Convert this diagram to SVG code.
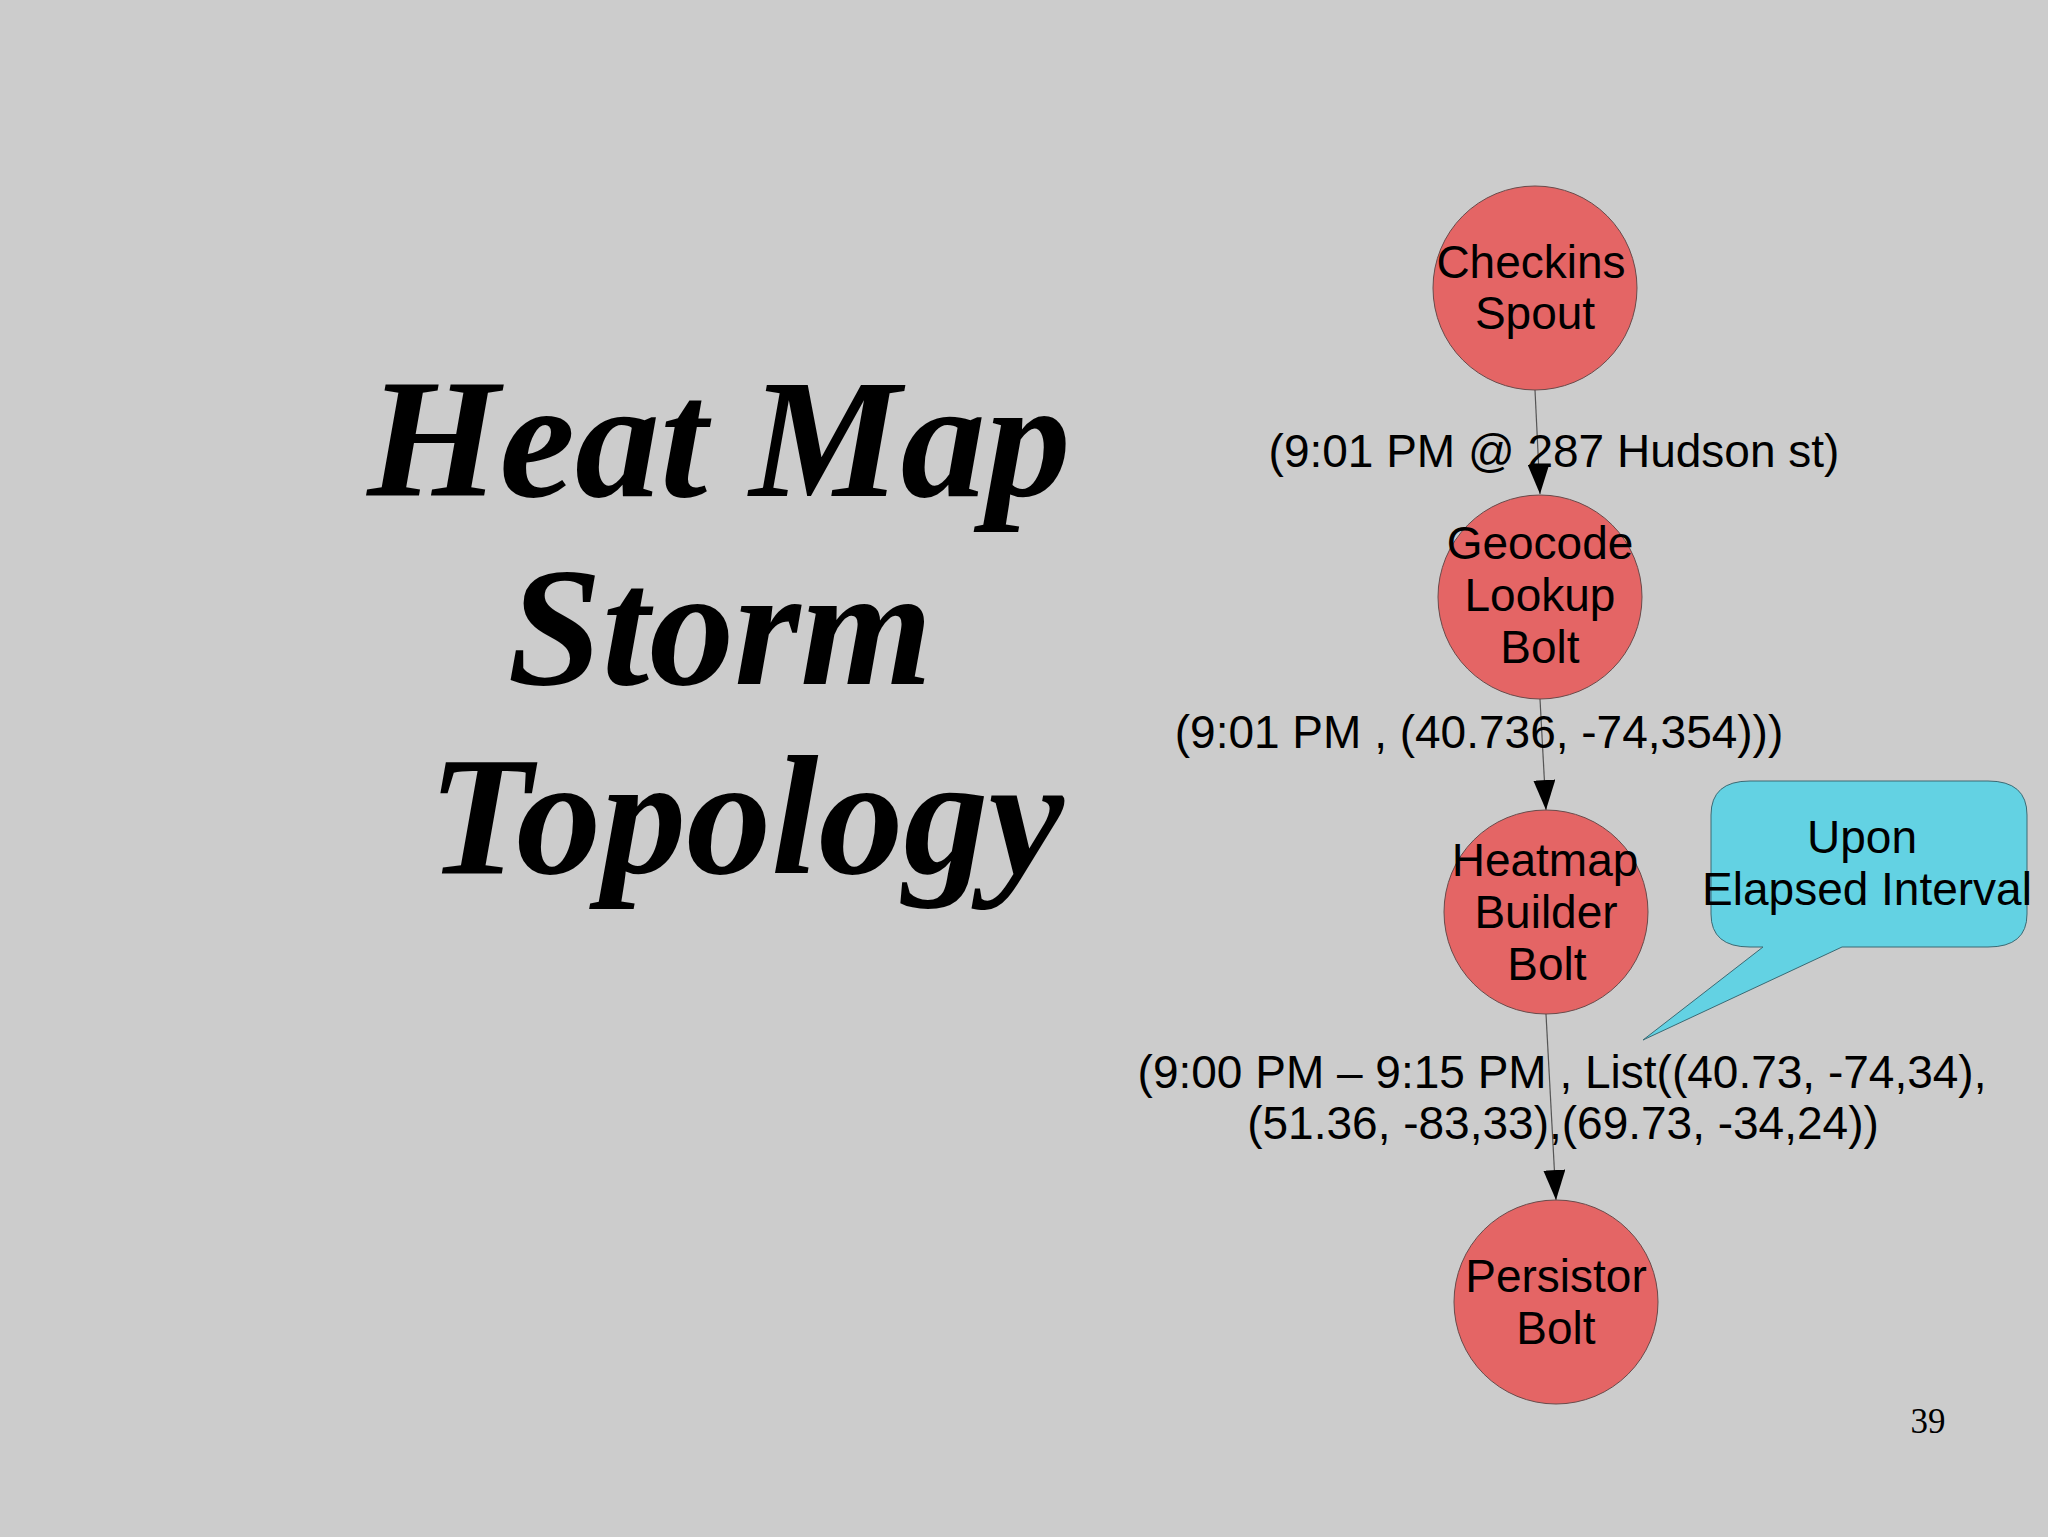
<svg xmlns="http://www.w3.org/2000/svg" width="2048" height="1537" viewBox="0 0 2048 1537">
<defs>
<style>
.bg{fill:#cccccc}
.node{fill:#e46565;stroke:#6a4a4a;stroke-width:1}
.lbl{font-family:"Liberation Sans",Arial,sans-serif;font-size:46px;fill:#000;text-anchor:middle}
.edge{stroke:#555555;stroke-width:1.2;fill:none;marker-end:url(#arr)}
.title{font-family:"Liberation Serif","Times New Roman",serif;font-weight:bold;font-style:italic;font-size:170px;fill:#000;text-anchor:middle}
.callout{fill:#63d2e3;stroke:#3a6a74;stroke-width:1}
</style>
<marker id="arr" markerUnits="userSpaceOnUse" markerWidth="30" markerHeight="22" refX="30" refY="11" orient="auto">
<path d="M0,0 L30,11 L0,22 z" fill="#000"/>
</marker>
</defs>
<rect class="bg" x="0" y="0" width="2048" height="1537"/>
<g id="title">
<text class="title" x="719" y="496">Heat Map</text>
<text class="title" x="720" y="684">Storm</text>
<text class="title" x="746" y="873">Topology</text>
</g>
<g id="connectors">
<line class="edge" x1="1535" y1="390" x2="1540" y2="494"/>
<line class="edge" x1="1540" y1="699" x2="1546" y2="810"/>
<line class="edge" x1="1546" y1="1014" x2="1556" y2="1200"/>
</g>
<g id="edge-labels">
<text class="lbl" x="1554" y="467">(9:01 PM @ 287 Hudson st)</text>
<text class="lbl" x="1479" y="748">(9:01 PM , (40.736, -74,354)))</text>
<text class="lbl" x="1562" y="1088">(9:00 PM – 9:15 PM , List((40.73, -74,34),</text>
<text class="lbl" x="1563" y="1139">(51.36, -83,33),(69.73, -34,24))</text>
</g>
<g id="checkins-spout">
<circle class="node" cx="1535" cy="288" r="102"/>
<text class="lbl" x="1531" y="278">Checkins</text>
<text class="lbl" x="1535" y="329">Spout</text>
</g>
<g id="geocode-lookup-bolt">
<circle class="node" cx="1540" cy="597" r="102"/>
<text class="lbl" x="1540" y="559">Geocode</text>
<text class="lbl" x="1540" y="611">Lookup</text>
<text class="lbl" x="1540" y="663">Bolt</text>
</g>
<g id="heatmap-builder-bolt">
<circle class="node" cx="1546" cy="912" r="102"/>
<text class="lbl" x="1545" y="876">Heatmap</text>
<text class="lbl" x="1546" y="928">Builder</text>
<text class="lbl" x="1547" y="980">Bolt</text>
</g>
<g id="persistor-bolt">
<circle class="node" cx="1556" cy="1302" r="102"/>
<text class="lbl" x="1556" y="1292">Persistor</text>
<text class="lbl" x="1556" y="1344">Bolt</text>
</g>
<g id="callout">
<path class="callout" d="M1750,781 L1988,781 Q2027,781 2027,815 L2027,914 Q2027,947 1988,947 L1842,947 L1643,1040 L1763,947 L1750,947 Q1711,947 1711,914 L1711,815 Q1711,781 1750,781 z"/>
<text class="lbl" x="1862" y="853">Upon</text>
<text class="lbl" x="1867" y="905">Elapsed Interval</text>
</g>
<text x="1928" y="1433" font-family="Liberation Serif,'Times New Roman',serif" font-size="35" text-anchor="middle" fill="#000">39</text>
</svg>
